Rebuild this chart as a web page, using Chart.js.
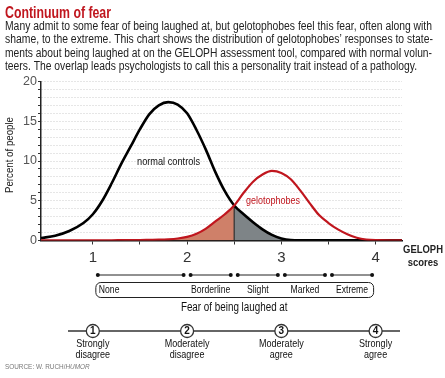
<!DOCTYPE html>
<html>
<head>
<meta charset="utf-8">
<script src="https://cdn.jsdelivr.net/npm/chart.js@4.4.1/dist/chart.umd.min.js"></script>
<style>
  body { margin: 0; background: #fff; }
  canvas { display: block; }
</style>
</head>
<body>
<canvas id="fearChart" width="445" height="378"></canvas>
<script>
// GELOPH score sample points (x) and percent of people at each
const scores = [0.45, 0.6, 0.75, 0.9, 1.0, 1.1, 1.2, 1.3, 1.4, 1.5, 1.6, 1.7, 1.8, 1.9, 2.0, 2.1, 2.2, 2.3, 2.4, 2.5,
  2.6, 2.7, 2.8, 2.9, 3.0, 3.1, 3.2, 3.3, 3.4, 3.5, 3.6, 3.7, 3.8, 3.9, 4.0, 4.28];
const normalControls = [0.3, 0.6, 1.2, 2.2, 3.3, 5.0, 7.2, 9.6, 11.8, 14.0, 15.9, 17.0, 17.4, 17.1, 16.0, 13.9, 11.4, 8.6, 6.2, 4.4,
  3.3, 2.3, 1.4, 0.7, 0.25, 0.05, 0.02, 0.02, 0.02, 0.02, 0.02, 0.02, 0.02, 0.02, 0.02, 0.02];
const gelotophobes = [0.02, 0.02, 0.02, 0.02, 0.02, 0.03, 0.03, 0.04, 0.05, 0.06, 0.08, 0.1, 0.15, 0.25, 0.45, 0.85, 1.5, 2.4, 3.3, 4.4,
  6.0, 7.4, 8.3, 8.75, 8.5, 7.7, 6.3, 4.7, 3.2, 2.2, 1.4, 0.8, 0.35, 0.12, 0.05, 0.03];
const overlapAt = 2.5;

// tick labels
const xTickValues = [1, 1.5, 2, 2.5, 3, 3.5, 4];
const yTickLabels = ['0', '5', '10', '15', '20'];

// fear categories under the axis
const fearLevels = ['None', 'Borderline', 'Slight', 'Marked', 'Extreme'];
const fearBounds = [1, 2, 2.5, 3, 3.5, 4];
// answer scale
const answerValues = [1, 2, 3, 4];
const answerLabels = [['Strongly', 'disagree'], ['Moderately', 'disagree'], ['Moderately', 'agree'], ['Strongly', 'agree']];

const RED = '#c0161e';
const SANS = '"Liberation Sans", Arial, sans-serif';

const pts = (ys) => scores.map((x, i) => ({ x: x, y: ys[i] }));
const normalPts = pts(normalControls);
const geloPts = pts(gelotophobes);
const crossIdx = scores.indexOf(overlapAt);

// condensed text: squeeze the normal width a little
function narrowText(ctx, text, x, y, squeeze) {
  ctx.fillText(text, x, y, ctx.measureText(text).width * (squeeze || 0.82));
}

// extra drawing: text, category scale, answer scale
const annotations = {
  id: 'annotations',
  afterDraw(chart) {
    const ctx = chart.ctx;
    const x = chart.scales.x;
    ctx.save();

    // title and description
    ctx.textBaseline = 'middle';
    ctx.textAlign = 'left';
    ctx.fillStyle = RED;
    ctx.font = 'bold 17px ' + SANS;
    ctx.fillText('Continuum of fear', 5, 13, 106);
    ctx.fillStyle = '#222';
    ctx.font = '12.5px ' + SANS;
    const desc = [
      ['Many admit to some fear of being laughed at, but gelotophobes feel this fear, often along with', 427],
      ['shame, to the extreme. This chart shows the distribution of gelotophobes\u2019 responses to state-', 428],
      ['ments about being laughed at on the GELOPH assessment tool, compared with normal volun-', 427],
      ['teers. The overlap leads psychologists to call this a personality trait instead of a pathology.', 412]
    ];
    desc.forEach((d, i) => ctx.fillText(d[0], 5, 26.5 + i * 13.4, d[1]));

    // y axis title
    ctx.save();
    ctx.translate(10, 155);
    ctx.rotate(-Math.PI / 2);
    ctx.textAlign = 'center';
    ctx.fillStyle = '#222';
    ctx.font = '11.5px ' + SANS;
    ctx.fillText('Percent of people', 0, 0, 76);
    ctx.restore();

    // curve labels
    ctx.textAlign = 'center';
    ctx.font = '11.5px ' + SANS;
    ctx.fillStyle = '#111';
    ctx.fillText('normal controls', 168.5, 162, 63);
    ctx.fillStyle = RED;
    ctx.fillText('gelotophobes', 273, 201, 54);

    // axis name
    ctx.fillStyle = '#222';
    ctx.font = 'bold 10.5px ' + SANS;
    narrowText(ctx, 'GELOPH', 423, 250, 0.9);
    narrowText(ctx, 'scores', 423, 263, 0.9);

    // fear category segments
    const segY = 275;
    ctx.strokeStyle = '#222';
    ctx.fillStyle = '#111';
    ctx.lineWidth = 1;
    for (let i = 0; i < fearLevels.length; i++) {
      const a = x.getPixelForValue(fearBounds[i]) + (i === 0 ? 5 : 3.5);
      const b = x.getPixelForValue(fearBounds[i + 1]) - 3.5;
      ctx.beginPath();
      ctx.moveTo(a, segY);
      ctx.lineTo(b, segY);
      ctx.stroke();
      [a, b].forEach((p) => {
        ctx.beginPath();
        ctx.arc(p, segY, 2, 0, Math.PI * 2);
        ctx.fill();
      });
    }
    // rounded box
    const bx0 = x.getPixelForValue(1) + 3;
    const bx1 = x.getPixelForValue(4) - 2;
    ctx.beginPath();
    ctx.roundRect(bx0, 282.5, bx1 - bx0, 15, 5);
    ctx.stroke();
    ctx.font = '10.5px ' + SANS;
    ctx.fillStyle = '#111';
    for (let i = 0; i < fearLevels.length; i++) {
      if (i === 0) {
        ctx.textAlign = 'left';
        narrowText(ctx, fearLevels[i], x.getPixelForValue(fearBounds[0]) + 6, 290.5);
      } else {
        ctx.textAlign = 'center';
        const mid = (fearBounds[i] + fearBounds[i + 1]) / 2;
        narrowText(ctx, fearLevels[i], x.getPixelForValue(mid), 290.5);
      }
    }
    ctx.textAlign = 'center';
    ctx.font = '12px ' + SANS;
    narrowText(ctx, 'Fear of being laughed at', x.getPixelForValue(2.5), 308);

    // answer scale
    const ay = 331;
    ctx.strokeStyle = '#333';
    ctx.lineWidth = 1.3;
    ctx.beginPath();
    ctx.moveTo(68, ay);
    ctx.lineTo(400, ay);
    ctx.stroke();
    answerValues.forEach((v, i) => {
      const px = x.getPixelForValue(v);
      ctx.beginPath();
      ctx.arc(px, ay, 6.5, 0, Math.PI * 2);
      ctx.fillStyle = '#fff';
      ctx.fill();
      ctx.lineWidth = 1.3;
      ctx.stroke();
      ctx.fillStyle = '#111';
      ctx.font = 'bold 10px ' + SANS;
      ctx.fillText(String(v), px, ay + 0.5);
      ctx.font = '11px ' + SANS;
      narrowText(ctx, answerLabels[i][0], px, 344);
      narrowText(ctx, answerLabels[i][1], px, 355);
    });

    // source line
    ctx.textAlign = 'left';
    ctx.fillStyle = '#777';
    ctx.font = '8px ' + SANS;
    const src = 'SOURCE: W. RUCH/';
    const w = ctx.measureText(src).width * 0.8;
    ctx.fillText(src, 5, 367, w);
    ctx.font = 'italic 8px ' + SANS;
    narrowText(ctx, 'HUMOR', 5 + w, 367, 0.8);

    ctx.restore();
  }
};

const ctx = document.getElementById('fearChart').getContext('2d');
const fearChart = new Chart(ctx, {
  type: 'line',
  data: {
    datasets: [
      {
        // orange part: gelotophobes below the crossing
        data: geloPts.slice(0, crossIdx + 1),
        borderWidth: 0,
        pointRadius: 0,
        fill: 'origin',
        backgroundColor: '#cf8069',
        cubicInterpolationMode: 'monotone',
        order: 5
      },
      {
        // gray part: normal controls after the crossing
        data: normalPts.slice(crossIdx),
        borderWidth: 0,
        pointRadius: 0,
        fill: 'origin',
        backgroundColor: '#7e8487',
        cubicInterpolationMode: 'monotone',
        order: 4
      },
      {
        data: [{ x: overlapAt, y: 0 }, { x: overlapAt, y: normalControls[crossIdx] }],
        borderColor: '#333',
        borderWidth: 1.3,
        pointRadius: 0,
        fill: false,
        order: 3
      },
      {
        label: 'normal controls',
        data: normalPts,
        borderColor: '#000',
        borderWidth: 2.6,
        pointRadius: 0,
        fill: false,
        cubicInterpolationMode: 'monotone',
        order: 2
      },
      {
        label: 'gelotophobes',
        data: geloPts,
        borderColor: RED,
        borderWidth: 2.2,
        pointRadius: 0,
        fill: false,
        cubicInterpolationMode: 'monotone',
        order: 1
      }
    ]
  },
  options: {
    responsive: false,
    animation: false,
    layout: { padding: { top: 81.5, right: 43, left: 0, bottom: 0 } },
    scales: {
      x: {
        type: 'linear',
        min: 0.45,
        max: 4.28,
        afterBuildTicks: (scale) => { scale.ticks = xTickValues.map((v) => ({ value: v })); },
        afterFit: (scale) => { scale.height = 378 - 240.5; },
        ticks: {
          autoSkip: false,
          maxRotation: 0,
          padding: 4,
          color: '#333',
          font: { family: SANS, size: 15 },
          callback: (v) => (Number.isInteger(v) ? String(v) : '')
        },
        grid: { drawOnChartArea: false, tickLength: 4, tickColor: '#333', tickWidth: 1 },
        border: { color: '#111', width: 1.5 }
      },
      y: {
        min: 0,
        max: 20,
        afterFit: (scale) => { scale.width = 41; },
        ticks: {
          stepSize: 1,
          autoSkip: false,
          padding: 1,
          color: '#555',
          font: { family: SANS, size: 12.5 },
          callback: (v) => (v % 5 === 0 ? yTickLabels[v / 5] : '')
        },
        grid: {
          color: '#cccccc',
          lineWidth: 1,
          tickLength: 3,
          tickColor: '#333',
          tickWidth: 1,
          tickBorderDash: []
        },
        border: { color: '#222', width: 1.5, dash: [1, 2] }
      }
    },
    plugins: {
      legend: { display: false },
      tooltip: { enabled: false }
    }
  },
  plugins: [annotations]
});
</script>
</body>
</html>
